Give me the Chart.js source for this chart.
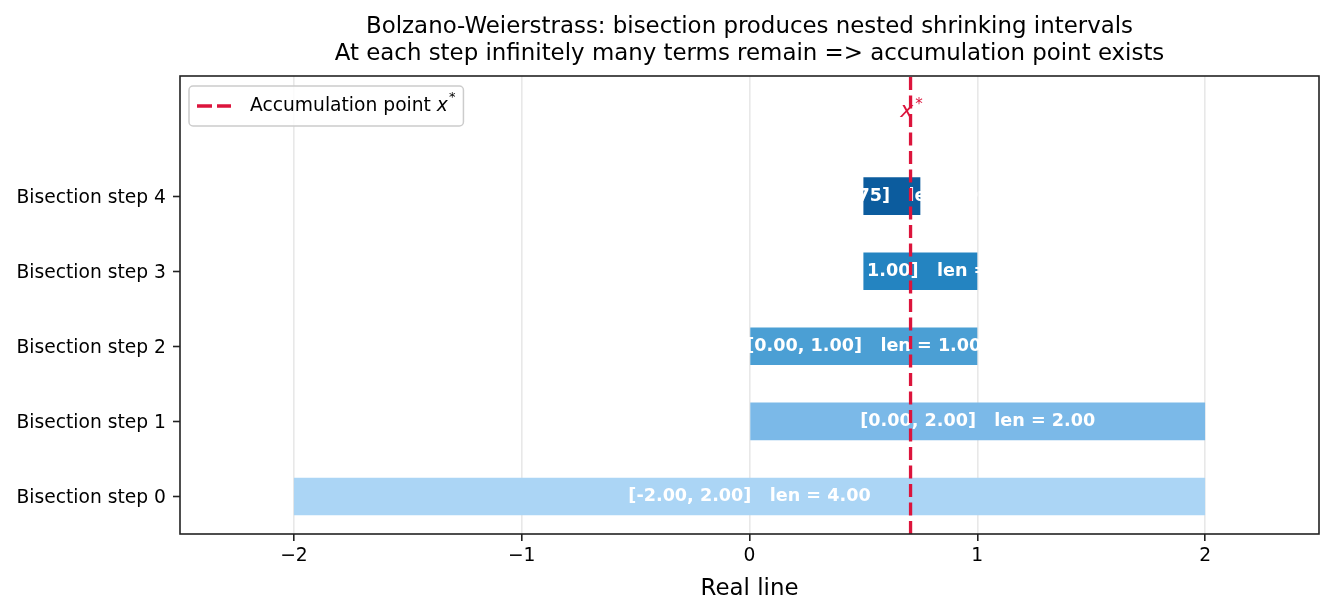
<!DOCTYPE html>
<html lang="en">
<head>
    <meta charset="UTF-8">
    <title>Bolzano-Weierstrass bisection</title>
    <style>
        body { margin: 0; background: #fff; }
        #wrap { width: 1334px; height: 615px; }
    </style>
</head>
<body>
    <div id="wrap">
        <canvas id="myChart"></canvas>
    </div>
    <script src="https://cdn.jsdelivr.net/npm/chart.js"></script>
    <script>
        // data
        const stepLabels = ['Bisection step 0', 'Bisection step 1', 'Bisection step 2', 'Bisection step 3', 'Bisection step 4'];
        const lowEnds  = [-2, 0, 0, 0.5, 0.5];
        const highEnds = [2, 2, 1, 1, 0.75];
        const barColors = ['#abd5f5', '#7bb9e8', '#4b9fd4', '#2484c1', '#0c5c9e'];
        const xStar = 0.707;
        const xTicks = [-2, -1, 0, 1, 2];
        const yMin = -0.5, yMax = 5.6;

        Chart.defaults.font.family = '"DejaVu Sans", sans-serif';
        Chart.defaults.color = '#000';

        // white text on each bar, drawn right after the bars (under the dashed line)
        const barText = {
            id: 'barText',
            afterDatasetDraw(chart, args) {
                if (args.index !== 0) return;
                const ctx = chart.ctx, a = chart.chartArea;
                const meta = chart.getDatasetMeta(0);
                ctx.save();
                ctx.beginPath();
                ctx.rect(a.left, a.top, a.right - a.left, a.bottom - a.top);
                ctx.clip();
                ctx.font = 'bold 17.6px "DejaVu Sans"';
                ctx.fillStyle = '#fff';
                ctx.textAlign = 'center';
                ctx.textBaseline = 'middle';
                meta.data.forEach((bar, i) => {
                    const p = bar.getProps(['x', 'y', 'base'], true);
                    const txt = '[' + lowEnds[i].toFixed(2) + ', ' + highEnds[i].toFixed(2) + ']   len = ' + (highEnds[i] - lowEnds[i]).toFixed(2);
                    ctx.fillText(txt, (p.x + p.base) / 2, p.y);
                });
                ctx.restore();
            }
        };

        // x* label near the top of the dashed line
        const starText = {
            id: 'starText',
            afterDatasetsDraw(chart) {
                const ctx = chart.ctx;
                const px = chart.scales.x.getPixelForValue(xStar);
                const py = chart.scales.y.getPixelForValue(5.05);
                ctx.save();
                ctx.fillStyle = '#dc143c';
                ctx.textBaseline = 'alphabetic';
                ctx.font = 'italic 22px "DejaVu Sans"';
                const wx = ctx.measureText('x').width;
                ctx.font = '15px "DejaVu Sans"';
                const ws = ctx.measureText('*').width;
                const x0 = px - (wx + ws) / 2;
                ctx.font = 'italic 22px "DejaVu Sans"';
                ctx.fillText('x', x0, py);
                ctx.font = '15px "DejaVu Sans"';
                ctx.fillText('*', x0 + wx + 2, py - 8);
                ctx.restore();
            }
        };

        // axes frame + legend box in the upper left corner
        const frameAndLegend = {
            id: 'frameAndLegend',
            afterDraw(chart) {
                const ctx = chart.ctx, a = chart.chartArea;
                const ds = chart.data.datasets[1];
                ctx.save();
                ctx.strokeStyle = '#222';
                ctx.lineWidth = 1.6;
                ctx.strokeRect(a.left, a.top, a.right - a.left, a.bottom - a.top);

                const x0 = a.left + 9, y0 = a.top + 10, h = 40;
                const main = 'Accumulation point ';
                ctx.font = '18.7px "DejaVu Sans"';
                const wMain = ctx.measureText(main).width;
                ctx.font = 'italic 18.7px "DejaVu Sans"';
                const wX = ctx.measureText('x').width;
                ctx.font = '13px "DejaVu Sans"';
                const wS = ctx.measureText('*').width;
                const w = 61 + wMain + wX + wS + 9;

                ctx.beginPath();
                ctx.roundRect(x0, y0, w, h, 4);
                ctx.fillStyle = 'rgba(255,255,255,0.8)';
                ctx.fill();
                ctx.strokeStyle = '#cccccc';
                ctx.lineWidth = 1.5;
                ctx.stroke();

                const cy = y0 + h / 2;
                ctx.beginPath();
                ctx.setLineDash([15, 5]);
                ctx.strokeStyle = ds.borderColor;
                ctx.lineWidth = ds.borderWidth;
                ctx.moveTo(x0 + 8, cy);
                ctx.lineTo(x0 + 42, cy);
                ctx.stroke();
                ctx.setLineDash([]);

                ctx.fillStyle = '#000';
                ctx.textBaseline = 'middle';
                ctx.font = '18.7px "DejaVu Sans"';
                ctx.fillText(main, x0 + 61, cy);
                ctx.font = 'italic 18.7px "DejaVu Sans"';
                ctx.fillText('x', x0 + 61 + wMain, cy);
                ctx.font = '13px "DejaVu Sans"';
                ctx.fillText('*', x0 + 61 + wMain + wX + 1, cy - 8);
                ctx.restore();
            }
        };

        const ctx = document.querySelector('#myChart');
        const myChart = new Chart(ctx, {
            type: 'bar',
            data: {
                datasets: [
                    {
                        type: 'bar',
                        label: 'intervals',
                        data: stepLabels.map((_, i) => ({ x: [lowEnds[i], highEnds[i]], y: i })),
                        backgroundColor: barColors,
                        borderWidth: 0,
                        barPercentage: 0.5,
                        categoryPercentage: 1,
                        order: 1
                    },
                    {
                        type: 'line',
                        label: 'Accumulation point x*',
                        data: [{ x: xStar, y: yMin }, { x: xStar, y: yMax }],
                        borderColor: '#dc143c',
                        borderWidth: 3.3,
                        borderDash: [13, 5.5],
                        pointRadius: 0,
                        fill: false,
                        order: 0
                    }
                ]
            },
            plugins: [barText, starText, frameAndLegend],
            options: {
                indexAxis: 'y',
                responsive: true,
                maintainAspectRatio: false,
                animation: false,
                layout: { padding: { left: 0, right: 15, top: 0, bottom: 0 } },
                plugins: {
                    legend: { display: false },
                    tooltip: { enabled: false },
                    title: {
                        display: true,
                        fullSize: false,  // center over the plot area, like matplotlib
                        text: ['Bolzano-Weierstrass: bisection produces nested shrinking intervals',
                               'At each step infinitely many terms remain => accumulation point exists'],
                        color: '#000',
                        font: { size: 22.9, weight: 'normal', lineHeight: '27px' },
                        padding: { top: 14, bottom: 8 }
                    }
                },
                scales: {
                    x: {
                        type: 'linear',
                        min: -2.5,
                        max: 2.5,
                        afterBuildTicks: s => { s.ticks = xTicks.map(v => ({ value: v })); },
                        ticks: {
                            callback: v => String(v).replace('-', '\u2212'),
                            color: '#000',
                            font: { size: 18.7 },
                            padding: 4,
                            maxRotation: 0,
                            autoSkip: false
                        },
                        grid: { color: '#e8e8e8', lineWidth: 1.6, tickColor: '#222', tickLength: 7, tickWidth: 1.6 },
                        border: { display: false },
                        title: {
                            display: true,
                            text: 'Real line',
                            color: '#000',
                            font: { size: 22.9 },
                            padding: { top: 0, bottom: 12 }
                        },
                        afterFit: s => { s.height = 81; }
                    },
                    y: {
                        type: 'linear',
                        min: yMin,
                        max: yMax,
                        offset: false,
                        afterBuildTicks: s => { s.ticks = stepLabels.map((_, i) => ({ value: i })); },
                        ticks: {
                            callback: v => stepLabels[v],
                            color: '#000',
                            font: { size: 18.7 },
                            padding: 7,
                            labelOffset: 2,
                            autoSkip: false
                        },
                        grid: { drawOnChartArea: false, offset: false, tickColor: '#222', tickLength: 7, tickWidth: 1.6 },
                        border: { display: false },
                        afterFit: s => { s.width = 180; }
                    }
                }
            }
        });
    </script>
</body>
</html>
